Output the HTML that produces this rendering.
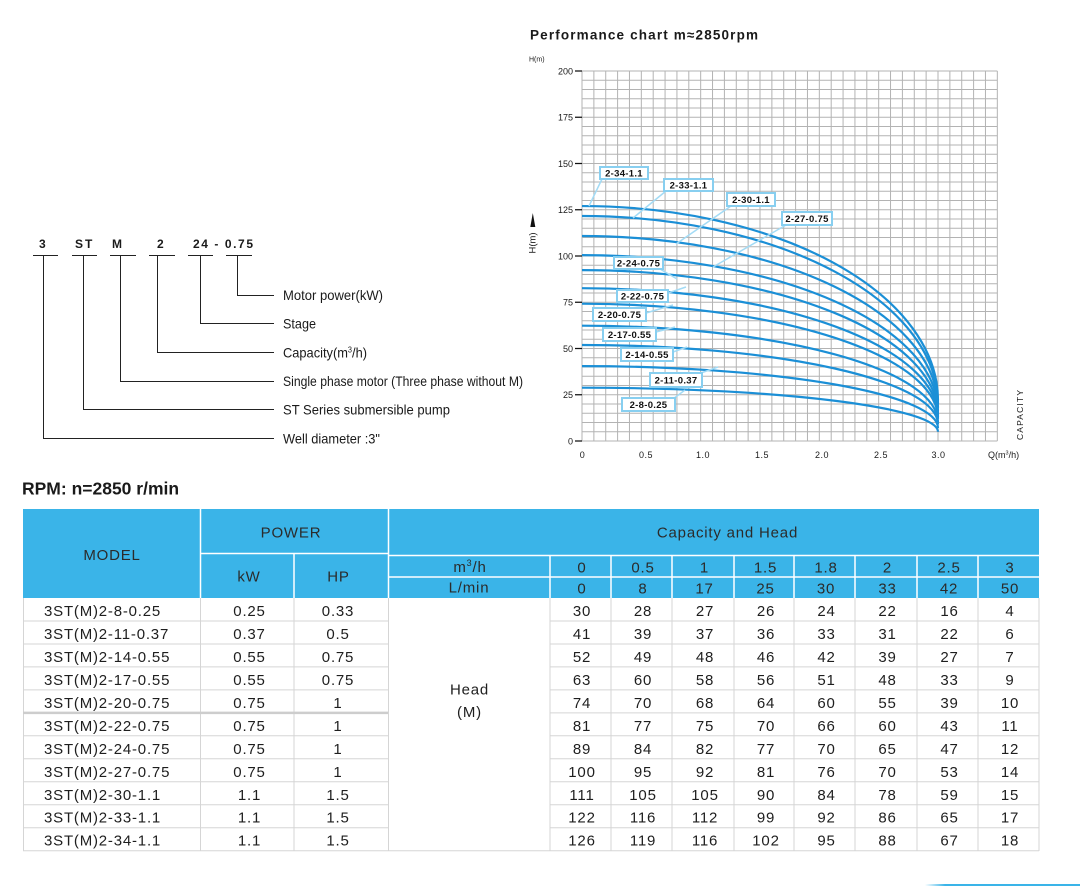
<!DOCTYPE html>
<html><head><meta charset="utf-8"><style>
html,body{margin:0;padding:0;background:#fff;}
svg{display:block;}
text{font-family:"Liberation Sans",Arial,sans-serif;}
</style></head><body>
<svg width="1080" height="886" viewBox="0 0 1080 886" xmlns="http://www.w3.org/2000/svg">
<rect width="1080" height="886" fill="#fff"/>

<!-- ===== Designation diagram ===== -->
<g font-weight="bold" font-size="12" fill="#1a1a1a">
<text x="39" y="248">3</text>
<text x="75" y="248" letter-spacing="2">ST</text>
<text x="112" y="248">M</text>
<text x="157" y="248">2</text>
<text x="193" y="248" textLength="60" lengthAdjust="spacing">24 - 0.75</text>
</g>
<g stroke="#222" stroke-width="1" fill="none">
<path d="M33 255.5H58M72 255.5H97M110 255.5H136M149 255.5H175M188 255.5H213M226 255.5H252"/>
<path d="M237.5 255.5V295.5H274"/>
<path d="M200.5 255.5V323.5H274"/>
<path d="M157.5 255.5V352.5H274"/>
<path d="M120.5 255.5V381.5H274"/>
<path d="M83.5 255.5V409.5H274"/>
<path d="M43.5 255.5V438.5H274"/>
</g>
<g font-size="14" fill="#1a1a1a">
<text x="283" y="300" textLength="100" lengthAdjust="spacingAndGlyphs">Motor power(kW)</text>
<text x="283" y="328.5" textLength="33" lengthAdjust="spacingAndGlyphs">Stage</text>
<text x="283" y="357.3" textLength="84" lengthAdjust="spacingAndGlyphs">Capacity(m<tspan font-size="8" dy="-5">3</tspan><tspan dy="5">/h)</tspan></text>
<text x="283" y="386" textLength="240" lengthAdjust="spacingAndGlyphs">Single phase motor (Three phase without M)</text>
<text x="283" y="414.7" textLength="167" lengthAdjust="spacingAndGlyphs">ST Series submersible pump</text>
<text x="283" y="443.3" textLength="97" lengthAdjust="spacingAndGlyphs">Well diameter :3"</text>
</g>

<!-- ===== Chart ===== -->
<text x="530" y="39.3" font-size="13.5" font-weight="bold" fill="#1a1a1a" textLength="228" lengthAdjust="spacing">Performance chart m≈2850rpm</text>
<text x="529" y="61.5" font-size="7" fill="#1a1a1a">H(m)</text>

<g stroke="#b3b3b3" stroke-width="1" fill="none">
<path d="M582 71V441M593.87 71V441M605.73 71V441M617.6 71V441M629.47 71V441M641.33 71V441M653.2 71V441M665.07 71V441M676.93 71V441M688.8 71V441M700.67 71V441M712.53 71V441M724.4 71V441M736.27 71V441M748.13 71V441M760 71V441M771.87 71V441M783.73 71V441M795.6 71V441M807.47 71V441M819.33 71V441M831.2 71V441M843.07 71V441M854.93 71V441M866.8 71V441M878.67 71V441M890.53 71V441M902.4 71V441M914.27 71V441M926.13 71V441M938 71V441M949.87 71V441M961.73 71V441M973.6 71V441M985.47 71V441M997.33 71V441"/>
<path d="M582 71H997.33M582 80.25H997.33M582 89.5H997.33M582 98.75H997.33M582 108H997.33M582 117.25H997.33M582 126.5H997.33M582 135.75H997.33M582 145H997.33M582 154.25H997.33M582 163.5H997.33M582 172.75H997.33M582 182H997.33M582 191.25H997.33M582 200.5H997.33M582 209.75H997.33M582 219H997.33M582 228.25H997.33M582 237.5H997.33M582 246.75H997.33M582 256H997.33M582 265.25H997.33M582 274.5H997.33M582 283.75H997.33M582 293H997.33M582 302.25H997.33M582 311.5H997.33M582 320.75H997.33M582 330H997.33M582 339.25H997.33M582 348.5H997.33M582 357.75H997.33M582 367H997.33M582 376.25H997.33M582 385.5H997.33M582 394.75H997.33M582 404H997.33M582 413.25H997.33M582 422.5H997.33M582 431.75H997.33M582 441H997.33"/>
</g>
<g stroke="#111" stroke-width="1.2">
<path d="M575 71H582M575 117.25H582M575 163.5H582M575 209.75H582M575 256H582M575 302.25H582M575 348.5H582M575 394.75H582M575 441H582"/>
</g>
<g font-size="9" fill="#1a1a1a" text-anchor="end">
<text x="573" y="74.5">200</text>
<text x="573" y="120.7">175</text>
<text x="573" y="167">150</text>
<text x="573" y="213.2">125</text>
<text x="573" y="259.5">100</text>
<text x="573" y="305.7">75</text>
<text x="573" y="352">50</text>
<text x="573" y="398.2">25</text>
<text x="573" y="444.5">0</text>
</g>
<g font-size="9" fill="#1a1a1a" text-anchor="middle" letter-spacing="0.5">
<text x="582.5" y="458">0</text>
<text x="646" y="458">0.5</text>
<text x="703" y="458">1.0</text>
<text x="762" y="458">1.5</text>
<text x="822" y="458">2.0</text>
<text x="881" y="458">2.5</text>
<text x="938.5" y="458">3.0</text>
</g>
<text x="988" y="458" font-size="9" fill="#1a1a1a">Q(m<tspan font-size="5.5" dy="-3.5">3</tspan><tspan dy="3.5">/h)</tspan></text>
<text transform="translate(1023,440) rotate(-90)" font-size="8.5" fill="#1a1a1a" textLength="50" lengthAdjust="spacing">CAPACITY</text>
<text transform="translate(535.5,253.5) rotate(-90)" font-size="9.5" fill="#1a1a1a" textLength="21" lengthAdjust="spacingAndGlyphs">H(m)</text>
<polygon points="532.8,213 530.3,227 535.3,227" fill="#111"/>

<!-- curves -->
<g fill="none" stroke="#1b8fd6" stroke-width="2.2">
<path d="M582 206.05A356 194.25 0 0 1 938 400.3"/>
<path d="M582 216A356 188 0 0 1 938 404"/>
<path d="M582 236A356 171.7 0 0 1 938 407.7"/>
<path d="M582 255.1A356 156.3 0 0 1 938 411.4"/>
<path d="M582 270.1A356 145 0 0 1 938 415.1"/>
<path d="M582 288.2A356 128.8 0 0 1 938 417"/>
<path d="M582 303.7A356 115.1 0 0 1 938 418.8"/>
<path d="M582 325.7A356 96.8 0 0 1 938 422.5"/>
<path d="M582 345A356 79.4 0 0 1 938 424.4"/>
<path d="M582 366.1A356 62 0 0 1 938 428.1"/>
<path d="M582 387.7A356 44.1 0 0 1 938 431.8"/>
</g>

<!-- leaders -->
<g stroke="#a3dbf5" stroke-width="1.5" fill="none">
<path d="M602 179L589 206"/>
<path d="M666 191L633 218"/>
<path d="M731 206L676 244"/>
<path d="M786 225L713 267"/>
<path d="M660 269L677 279"/>
<path d="M668 293L686 287"/>
<path d="M646 313L673 305"/>
<path d="M656 332L675 327"/>
<path d="M673 352L687 347"/>
<path d="M698 374L718 367"/>
<path d="M673 399L685 390"/>
</g>
<!-- label boxes -->
<g fill="#fff" stroke="#88cff0" stroke-width="2">
<rect x="600" y="167" width="48" height="12"/>
<rect x="664" y="179" width="49" height="12"/>
<rect x="727" y="193" width="48" height="13"/>
<rect x="782" y="212" width="50" height="13"/>
<rect x="614" y="257" width="49" height="12"/>
<rect x="617" y="290" width="51" height="12"/>
<rect x="593" y="308" width="53" height="13"/>
<rect x="603" y="328" width="53" height="13"/>
<rect x="621" y="348" width="52" height="13"/>
<rect x="650" y="373" width="52" height="14"/>
<rect x="622" y="398" width="53" height="13"/>
</g>
<g font-size="9.5" font-weight="bold" fill="#111" text-anchor="middle" letter-spacing="0.3">
<text x="624" y="176.5">2-34-1.1</text>
<text x="688.5" y="188.5">2-33-1.1</text>
<text x="751" y="203">2-30-1.1</text>
<text x="807" y="222">2-27-0.75</text>
<text x="638.5" y="266.5">2-24-0.75</text>
<text x="642.5" y="299.5">2-22-0.75</text>
<text x="619.5" y="318">2-20-0.75</text>
<text x="629.5" y="338">2-17-0.55</text>
<text x="647" y="358">2-14-0.55</text>
<text x="676" y="383.5">2-11-0.37</text>
<text x="648.5" y="408">2-8-0.25</text>
</g>

<!-- ===== RPM ===== -->
<text x="22" y="494.3" font-size="17.5" font-weight="bold" fill="#1a1a1a">RPM: n=2850 r/min</text>

<!-- ===== Table header ===== -->
<rect x="23" y="509" width="1016" height="89" fill="#3ab4e8"/>
<g stroke="#fff" stroke-width="1.5" fill="none">
<path d="M200.5 509V598M388.5 509V598M294 553V598M200 553.5H388M388 555.5H1039M388 577H1039"/>
<path d="M550 555V598M611 555V598M672 555V598M734 555V598M794 555V598M855 555V598M917 555V598M978 555V598"/>
</g>
<g font-size="15" fill="#2b2b2b" letter-spacing="0.8" text-anchor="middle">
<text x="112" y="560">MODEL</text>
<text x="291" y="537.3">POWER</text>
<text x="249" y="581.7">kW</text>
<text x="338.5" y="581.7">HP</text>
<text x="727.5" y="537.3">Capacity and Head</text>
<text x="470" y="572">m<tspan font-size="9" dy="-6">3</tspan><tspan dy="6">/h</tspan></text>
<text x="469" y="592.5">L/min</text>
</g>
<g font-size="15" fill="#2b2b2b" letter-spacing="0.8" text-anchor="middle">
<text x="582" y="572.5">0</text><text x="643" y="572.5">0.5</text><text x="704.5" y="572.5">1</text><text x="765.5" y="572.5">1.5</text><text x="826" y="572.5">1.8</text><text x="887.5" y="572.5">2</text><text x="949" y="572.5">2.5</text><text x="1010" y="572.5">3</text>
<text x="582" y="593.5">0</text><text x="643" y="593.5">8</text><text x="704.5" y="593.5">17</text><text x="765.5" y="593.5">25</text><text x="826" y="593.5">30</text><text x="887.5" y="593.5">33</text><text x="949" y="593.5">42</text><text x="1010" y="593.5">50</text>
</g>

<!-- ===== Table body ===== -->
<g stroke="#d5d5d5" stroke-width="1" fill="none">
<path d="M23.5 598V851M200.5 598V851M294 598V851M388.5 598V851M550 598V851M611 598V851M672 598V851M734 598V851M794 598V851M855 598V851M917 598V851M978 598V851M1039 598V851"/>
<path d="M23 850.7H1039"/>
<path d="M23 621H388M550 621H1039M23 644H388M550 644H1039M23 666.9H388M550 666.9H1039M23 689.9H388M550 689.9H1039M550 712.9H1039M23 735.8H388M550 735.8H1039M23 758.8H388M550 758.8H1039M23 781.8H388M550 781.8H1039M23 804.7H388M550 804.7H1039M23 827.7H388M550 827.7H1039"/>
</g>
<path d="M23 712.9H388" stroke="#cdcdcd" stroke-width="2.5"/>

<g font-size="15" fill="#1e1e1e" letter-spacing="0.8">
<text x="44" y="616">3ST(M)2-8-0.25</text>
<text x="44" y="639">3ST(M)2-11-0.37</text>
<text x="44" y="662">3ST(M)2-14-0.55</text>
<text x="44" y="684.9">3ST(M)2-17-0.55</text>
<text x="44" y="707.9">3ST(M)2-20-0.75</text>
<text x="44" y="730.8">3ST(M)2-22-0.75</text>
<text x="44" y="753.8">3ST(M)2-24-0.75</text>
<text x="44" y="776.8">3ST(M)2-27-0.75</text>
<text x="44" y="799.8">3ST(M)2-30-1.1</text>
<text x="44" y="822.7">3ST(M)2-33-1.1</text>
<text x="44" y="845.7">3ST(M)2-34-1.1</text>
</g>
<g font-size="15" fill="#1e1e1e" letter-spacing="0.8" text-anchor="middle">
<text x="249.5" y="616">0.25</text><text x="338" y="616">0.33</text>
<text x="249.5" y="639">0.37</text><text x="338" y="639">0.5</text>
<text x="249.5" y="662">0.55</text><text x="338" y="662">0.75</text>
<text x="249.5" y="684.9">0.55</text><text x="338" y="684.9">0.75</text>
<text x="249.5" y="707.9">0.75</text><text x="338" y="707.9">1</text>
<text x="249.5" y="730.8">0.75</text><text x="338" y="730.8">1</text>
<text x="249.5" y="753.8">0.75</text><text x="338" y="753.8">1</text>
<text x="249.5" y="776.8">0.75</text><text x="338" y="776.8">1</text>
<text x="249.5" y="799.8">1.1</text><text x="338" y="799.8">1.5</text>
<text x="249.5" y="822.7">1.1</text><text x="338" y="822.7">1.5</text>
<text x="249.5" y="845.7">1.1</text><text x="338" y="845.7">1.5</text>

<text x="469.5" y="694.5">Head</text>
<text x="469.5" y="717">(M)</text>

<text x="582" y="616">30</text><text x="643" y="616">28</text><text x="705" y="616">27</text><text x="766" y="616">26</text><text x="826.5" y="616">24</text><text x="887.5" y="616">22</text><text x="949.5" y="616">16</text><text x="1010" y="616">4</text>
<text x="582" y="639">41</text><text x="643" y="639">39</text><text x="705" y="639">37</text><text x="766" y="639">36</text><text x="826.5" y="639">33</text><text x="887.5" y="639">31</text><text x="949.5" y="639">22</text><text x="1010" y="639">6</text>
<text x="582" y="662">52</text><text x="643" y="662">49</text><text x="705" y="662">48</text><text x="766" y="662">46</text><text x="826.5" y="662">42</text><text x="887.5" y="662">39</text><text x="949.5" y="662">27</text><text x="1010" y="662">7</text>
<text x="582" y="684.9">63</text><text x="643" y="684.9">60</text><text x="705" y="684.9">58</text><text x="766" y="684.9">56</text><text x="826.5" y="684.9">51</text><text x="887.5" y="684.9">48</text><text x="949.5" y="684.9">33</text><text x="1010" y="684.9">9</text>
<text x="582" y="707.9">74</text><text x="643" y="707.9">70</text><text x="705" y="707.9">68</text><text x="766" y="707.9">64</text><text x="826.5" y="707.9">60</text><text x="887.5" y="707.9">55</text><text x="949.5" y="707.9">39</text><text x="1010" y="707.9">10</text>
<text x="582" y="730.8">81</text><text x="643" y="730.8">77</text><text x="705" y="730.8">75</text><text x="766" y="730.8">70</text><text x="826.5" y="730.8">66</text><text x="887.5" y="730.8">60</text><text x="949.5" y="730.8">43</text><text x="1010" y="730.8">11</text>
<text x="582" y="753.8">89</text><text x="643" y="753.8">84</text><text x="705" y="753.8">82</text><text x="766" y="753.8">77</text><text x="826.5" y="753.8">70</text><text x="887.5" y="753.8">65</text><text x="949.5" y="753.8">47</text><text x="1010" y="753.8">12</text>
<text x="582" y="776.8">100</text><text x="643" y="776.8">95</text><text x="705" y="776.8">92</text><text x="766" y="776.8">81</text><text x="826.5" y="776.8">76</text><text x="887.5" y="776.8">70</text><text x="949.5" y="776.8">53</text><text x="1010" y="776.8">14</text>
<text x="582" y="799.8">111</text><text x="643" y="799.8">105</text><text x="705" y="799.8">105</text><text x="766" y="799.8">90</text><text x="826.5" y="799.8">84</text><text x="887.5" y="799.8">78</text><text x="949.5" y="799.8">59</text><text x="1010" y="799.8">15</text>
<text x="582" y="822.7">122</text><text x="643" y="822.7">116</text><text x="705" y="822.7">112</text><text x="766" y="822.7">99</text><text x="826.5" y="822.7">92</text><text x="887.5" y="822.7">86</text><text x="949.5" y="822.7">65</text><text x="1010" y="822.7">17</text>
<text x="582" y="845.7">126</text><text x="643" y="845.7">119</text><text x="705" y="845.7">116</text><text x="766" y="845.7">102</text><text x="826.5" y="845.7">95</text><text x="887.5" y="845.7">88</text><text x="949.5" y="845.7">67</text><text x="1010" y="845.7">18</text>
</g>

<!-- bottom right accent -->
<defs>
<linearGradient id="bar" x1="0" x2="1" y1="0" y2="0">
<stop offset="0" stop-color="#3ab4e8" stop-opacity="0"/>
<stop offset="0.13" stop-color="#3ab4e8" stop-opacity="1"/>
<stop offset="1" stop-color="#3ab4e8"/>
</linearGradient>
</defs>
<rect x="925" y="884" width="155" height="2" fill="url(#bar)"/>
</svg>
</body></html>
